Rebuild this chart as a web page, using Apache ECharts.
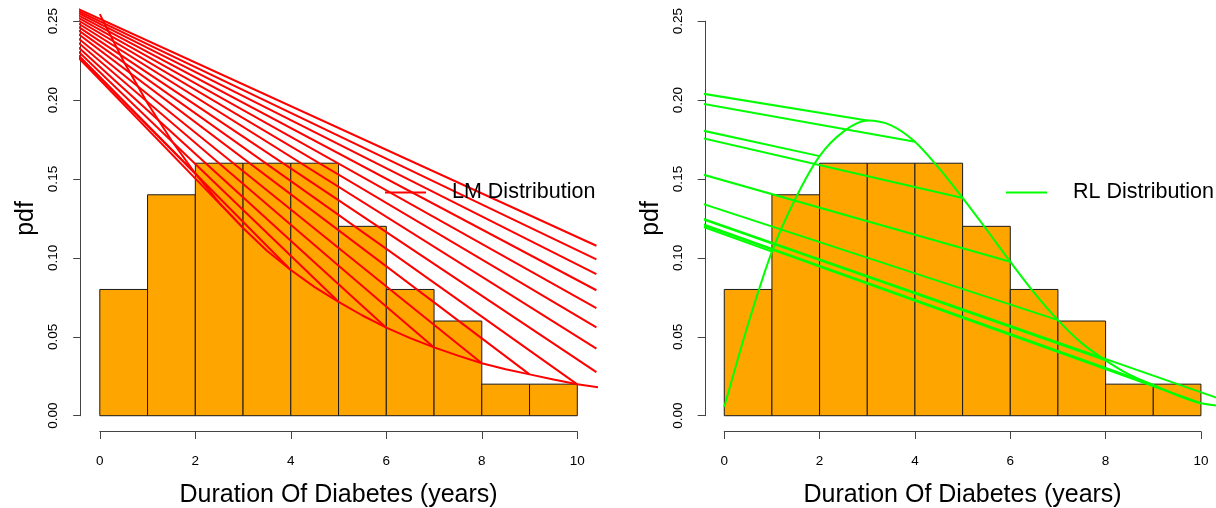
<!DOCTYPE html>
<html>
<head>
<meta charset="utf-8">
<script src="https://cdn.jsdelivr.net/npm/echarts@6/dist/echarts.min.js"></script>
<style>
html,body{margin:0;padding:0;background:#ffffff;}
#chart{width:1216px;height:508px;}
</style>
</head>
<body>
<div id="chart"></div>
<script>
// ---------------- data ----------------
const binStart = [0, 1, 2, 3, 4, 5, 6, 7, 8, 9];
const binEnd   = [1, 2, 3, 4, 5, 6, 7, 8, 9, 10];
const density  = [0.08, 0.14, 0.16, 0.16, 0.16, 0.12, 0.08, 0.06, 0.02, 0.02];

const xTickValues = [0, 2, 4, 6, 8, 10];
const yTickValues = [0, 0.05, 0.10, 0.15, 0.20, 0.25];
const xRange = [-0.4, 10.4];
const yRange = [-0.01, 0.26];

const xTitle = 'Duration Of Diabetes (years)';
const yTitle = 'pdf';

// LM (red) fitted density
const lmCurveX = [0, 0.5, 1, 1.5, 2, 2.5, 3, 3.5, 4, 4.5, 5, 5.5, 6, 6.5, 7, 7.5, 8, 8.5, 9, 9.5, 10, 11];
const lmCurveY = [0.2545, 0.2245, 0.198, 0.1745, 0.1535, 0.135, 0.119, 0.1045, 0.0923, 0.0815, 0.0722, 0.0635,
                  0.0558, 0.0492, 0.0433, 0.0381, 0.0332, 0.0295, 0.0262, 0.023, 0.0199, 0.0155];
// LM straight strokes: all start from a common point off the left of the plot
const lmHub  = [-2.21, 0.282];
const lmFanX = [2, 3, 4, 5, 6, 7, 8, 9, 10, 10.4, 10.4, 10.4, 10.4, 10.4, 10.4, 10.4, 10.4];
const lmFanY = [0.1535, 0.119, 0.0923, 0.0722, 0.0558, 0.0433, 0.0332, 0.0262, 0.0199,
                0.0276, 0.0425, 0.0560, 0.0682, 0.0795, 0.0897, 0.0991, 0.1077];

// RL (green) fitted density
const rlCurveX = [0, 0.5, 1, 1.5, 2, 2.5, 3, 3.5, 4, 4.5, 5, 5.5, 6, 6.5, 7, 7.5, 8, 8.5, 9, 9.5, 10, 11];
const rlCurveY = [0.0055, 0.058, 0.104, 0.138, 0.1645, 0.180, 0.187, 0.184, 0.1736, 0.157, 0.138, 0.118,
                  0.0976, 0.078, 0.0606, 0.046, 0.0351, 0.026, 0.0195, 0.013, 0.0079, 0.0043];
const rlHub  = [-14.6, 0.274];
const rlFanX = [1, 2, 3, 4, 5, 6, 7, 8, 9, 10, 11];
const rlFanY = [0.104, 0.1645, 0.187, 0.1736, 0.138, 0.0976, 0.0606, 0.0351, 0.0195, 0.0079, 0.0043];

// ---------------- layout ----------------
const FONT = 'Liberation Sans, Arial, Helvetica, sans-serif';
const plotTop = 5.4, plotBottom = 431.5, canvasW = 1216, canvasH = 508;
const panels = [
  {left: 80.7, right: 596.4, color: '#FF0000', name: 'LM Distribution', legendLeft: 385, smooth: false,
   curveX: lmCurveX, curveY: lmCurveY, hub: lmHub, fanX: lmFanX, fanY: lmFanY},
  {left: 705.2, right: 1220.0, color: '#00FF00', name: 'RL Distribution', legendLeft: 1006, smooth: 0.3,
   curveX: rlCurveX, curveY: rlCurveY, hub: rlHub, fanX: rlFanX, fanY: rlFanY}
];

const grid = [], xAxis = [], yAxis = [], series = [], legend = [];
const axisColor = '#444';

panels.forEach((p, i) => {
  const g = 3 * i;
  const pxX = (p.right - p.left) / (xRange[1] - xRange[0]);
  const pxY = (plotBottom - plotTop) / (yRange[1] - yRange[0]);
  const yTop = yTickValues[yTickValues.length - 1];
  const xMaxT = xTickValues[xTickValues.length - 1];
  // data grid
  grid.push({left: p.left, right: canvasW - p.right, top: plotTop, bottom: canvasH - plotBottom,
             outerBoundsMode: 'none', containLabel: false});
  xAxis.push({gridIndex: g, type: 'value', min: xRange[0], max: xRange[1], show: false});
  yAxis.push({gridIndex: g, type: 'value', min: yRange[0], max: yRange[1], show: false});
  // y axis (R style, only over tick range)
  grid.push({left: p.left, width: 1, top: plotTop + (yRange[1] - yTop) * pxY, height: (yTop - 0) * pxY,
             outerBoundsMode: 'none', containLabel: false});
  xAxis.push({gridIndex: g + 1, type: 'value', min: 0, max: 1, show: false});
  yAxis.push({gridIndex: g + 1, type: 'value', min: 0, max: yTop, interval: 0.05,
    axisLine: {show: true, lineStyle: {color: axisColor, width: 1}},
    axisTick: {show: true, length: 7.5, lineStyle: {color: axisColor, width: 1}},
    splitLine: {show: false},
    axisLabel: {show: true, rotate: 90, margin: 20, fontSize: 13.5, fontFamily: FONT, color: '#000',
                formatter: v => v.toFixed(2)},
    name: yTitle, nameLocation: 'middle', nameGap: 42,
    nameTextStyle: {fontSize: 25, fontFamily: FONT, color: '#000'}});
  // x axis (R style, only over tick range)
  grid.push({left: p.left + (0 - xRange[0]) * pxX, width: xMaxT * pxX, top: plotBottom - 1, height: 1,
             outerBoundsMode: 'none', containLabel: false});
  xAxis.push({gridIndex: g + 2, type: 'value', min: 0, max: xMaxT, interval: 2, position: 'bottom',
    axisLine: {show: true, onZero: false, lineStyle: {color: axisColor, width: 1}},
    axisTick: {show: true, length: 7.5, lineStyle: {color: axisColor, width: 1}},
    splitLine: {show: false},
    axisLabel: {show: true, margin: 23, fontSize: 13.5, fontFamily: FONT, color: '#000'},
    name: xTitle, nameLocation: 'middle', nameGap: 51,
    nameTextStyle: {fontSize: 25, fontFamily: FONT, color: '#000'}});
  yAxis.push({gridIndex: g + 2, type: 'value', min: 0, max: 1, show: false});

  // histogram bars
  series.push({
    type: 'custom', xAxisIndex: g, yAxisIndex: g, silent: true, z: 2, animation: false,
    data: binStart.map((s, k) => [s, binEnd[k], density[k]]),
    encode: {x: [0, 1], y: 2},
    renderItem: (params, api) => {
      const p0 = api.coord([api.value(0), 0]);
      const p1 = api.coord([api.value(1), api.value(2)]);
      return {type: 'rect',
        shape: {x: p0[0], y: p1[1], width: p1[0] - p0[0], height: p0[1] - p1[1]},
        style: {fill: '#FFA500', stroke: '#1a1a1a', lineWidth: 1}};
    }
  });
  // straight strokes
  p.fanX.forEach((tx, j) => {
    series.push({type: 'line', name: p.name + ' stroke ' + j, xAxisIndex: g, yAxisIndex: g,
      data: [p.hub, [tx, p.fanY[j]]], showSymbol: false, symbol: 'none', clip: true, silent: true,
      animation: false, z: 3, lineStyle: {color: p.color, width: 2}, itemStyle: {color: p.color}});
  });
  // fitted curve
  series.push({type: 'line', name: p.name, xAxisIndex: g, yAxisIndex: g,
    data: p.curveX.map((x, k) => [x, p.curveY[k]]), showSymbol: false, symbol: 'none', clip: true,
    smooth: p.smooth,
    silent: true, animation: false, z: 4, lineStyle: {color: p.color, width: 2}, itemStyle: {color: p.color}});

  legend.push({data: [p.name], left: p.legendLeft, top: 181.5, padding: 0, itemWidth: 41, itemHeight: 2,
    icon: 'rect', selectedMode: false,
    textStyle: {fontFamily: FONT, fontSize: 21.5, color: '#000', padding: [0, 0, 0, 21]}});
});

const chart = echarts.init(document.getElementById('chart'), null, {renderer: 'canvas', width: 1216, height: 508});
chart.setOption({
  backgroundColor: '#ffffff',
  animation: false,
  grid, xAxis, yAxis, series, legend
});
</script>
</body>
</html>
